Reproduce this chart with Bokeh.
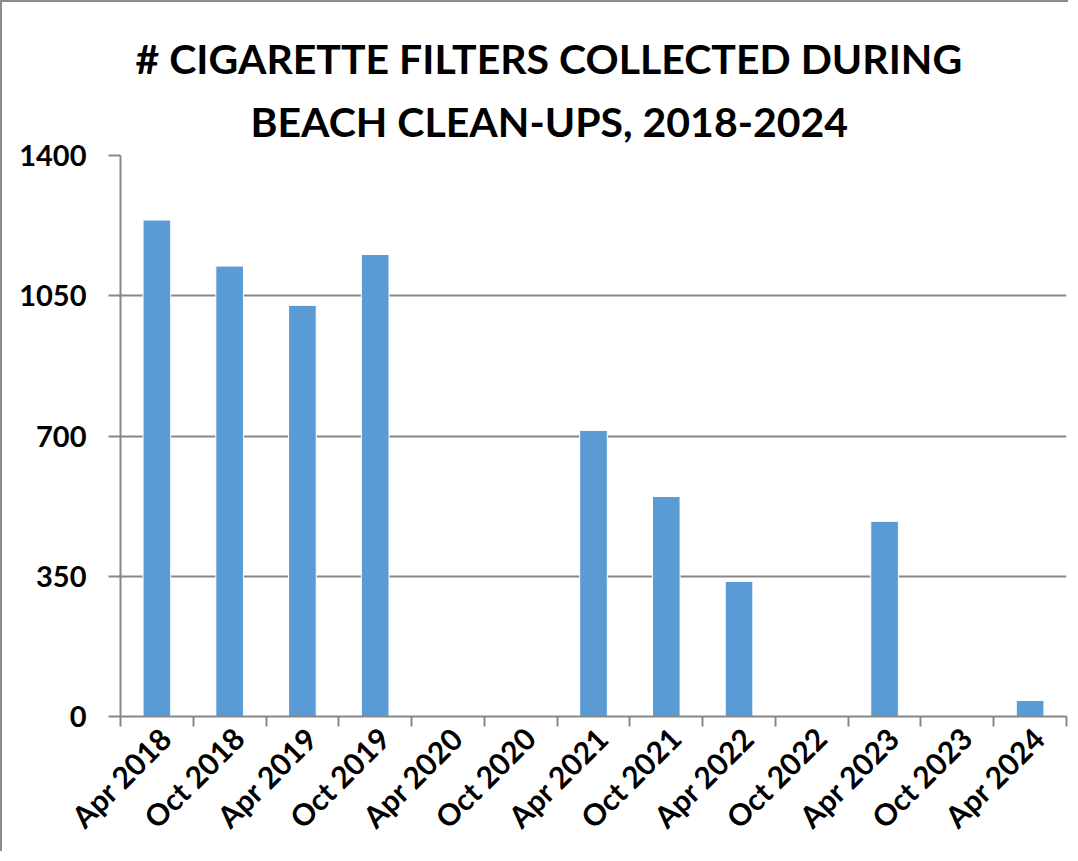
from bokeh.plotting import figure
from bokeh.models import FixedTicker, Range1d, ColumnDataSource, Title
from bokeh.embed import file_html
from bokeh.resources import INLINE

categories = ["Apr 2018", "Oct 2018", "Apr 2019", "Oct 2019", "Apr 2020", "Oct 2020",
              "Apr 2021", "Oct 2021", "Apr 2022", "Oct 2022", "Apr 2023", "Oct 2023", "Apr 2024"]
values = [1239, 1124, 1026, 1153, 0, 0, 714, 549, 337, 0, 487, 0, 40]
y_ticks = [0, 350, 700, 1050, 1400]
title_lines = ["# CIGARETTE FILTERS COLLECTED DURING", "BEACH CLEAN-UPS, 2018-2024"]

FONT = "Lato"
GRAY = "#878787"

xs = [i + 0.5 for i in range(len(categories))]
label_pos = [x + 0.12 for x in xs]
src = ColumnDataSource(dict(x=xs, top=values, cat=categories))

p = figure(width=1068, height=851, output_backend="svg", toolbar_location=None,
           x_range=Range1d(0, len(categories)), y_range=Range1d(0, 1400),
           min_border_left=118, min_border_right=4, min_border_top=153, min_border_bottom=137)

p.title.visible = False
t2 = Title(text=title_lines[1], align="left", text_font=FONT, text_font_style="bold",
           text_font_size="41px", text_color="black", standoff=19, offset=130)
t1 = Title(text=title_lines[0], align="left", text_font=FONT, text_font_style="bold",
           text_font_size="41px", text_color="black", standoff=6, offset=15)
p.add_layout(t2, "above")
p.add_layout(t1, "above")

p.vbar(x="x", top="top", width=0.38, source=src, fill_color="#5B9BD5",
       line_color="white", line_width=1)

p.xgrid.visible = False
p.ygrid.ticker = FixedTicker(ticks=y_ticks)
p.ygrid.grid_line_color = GRAY
p.ygrid.grid_line_width = 2
p.outline_line_color = None

ya = p.yaxis[0]
ya.ticker = FixedTicker(ticks=y_ticks)
ya.axis_line_color = GRAY
ya.axis_line_width = 2
ya.major_tick_line_color = GRAY
ya.major_tick_line_width = 2
ya.major_tick_out = 12
ya.major_tick_in = 0
ya.minor_tick_line_color = None
ya.major_label_text_font = FONT
ya.major_label_text_font_style = "bold"
ya.major_label_text_font_size = "29px"
ya.major_label_text_color = "black"
ya.major_label_standoff = 22

xa = p.xaxis[0]
xa.ticker = FixedTicker(ticks=label_pos, minor_ticks=list(range(len(categories) + 1)))
xa.major_label_overrides = {x: c for x, c in zip(label_pos, categories)}
xa.axis_line_color = GRAY
xa.axis_line_width = 2
xa.major_tick_line_color = None
xa.minor_tick_line_color = GRAY
xa.minor_tick_line_width = 2
xa.minor_tick_out = 10
xa.minor_tick_in = 0
xa.major_label_orientation = 0.785398
xa.major_label_text_font = FONT
xa.major_label_text_font_style = "bold"
xa.major_label_text_font_size = "30px"
xa.major_label_text_color = "black"
xa.major_label_standoff = 6

p.styles = {"border-top": "2px solid #8c8c8c", "border-left": "2px solid #8c8c8c"}

open("out.html", "w").write(file_html(p, INLINE))
